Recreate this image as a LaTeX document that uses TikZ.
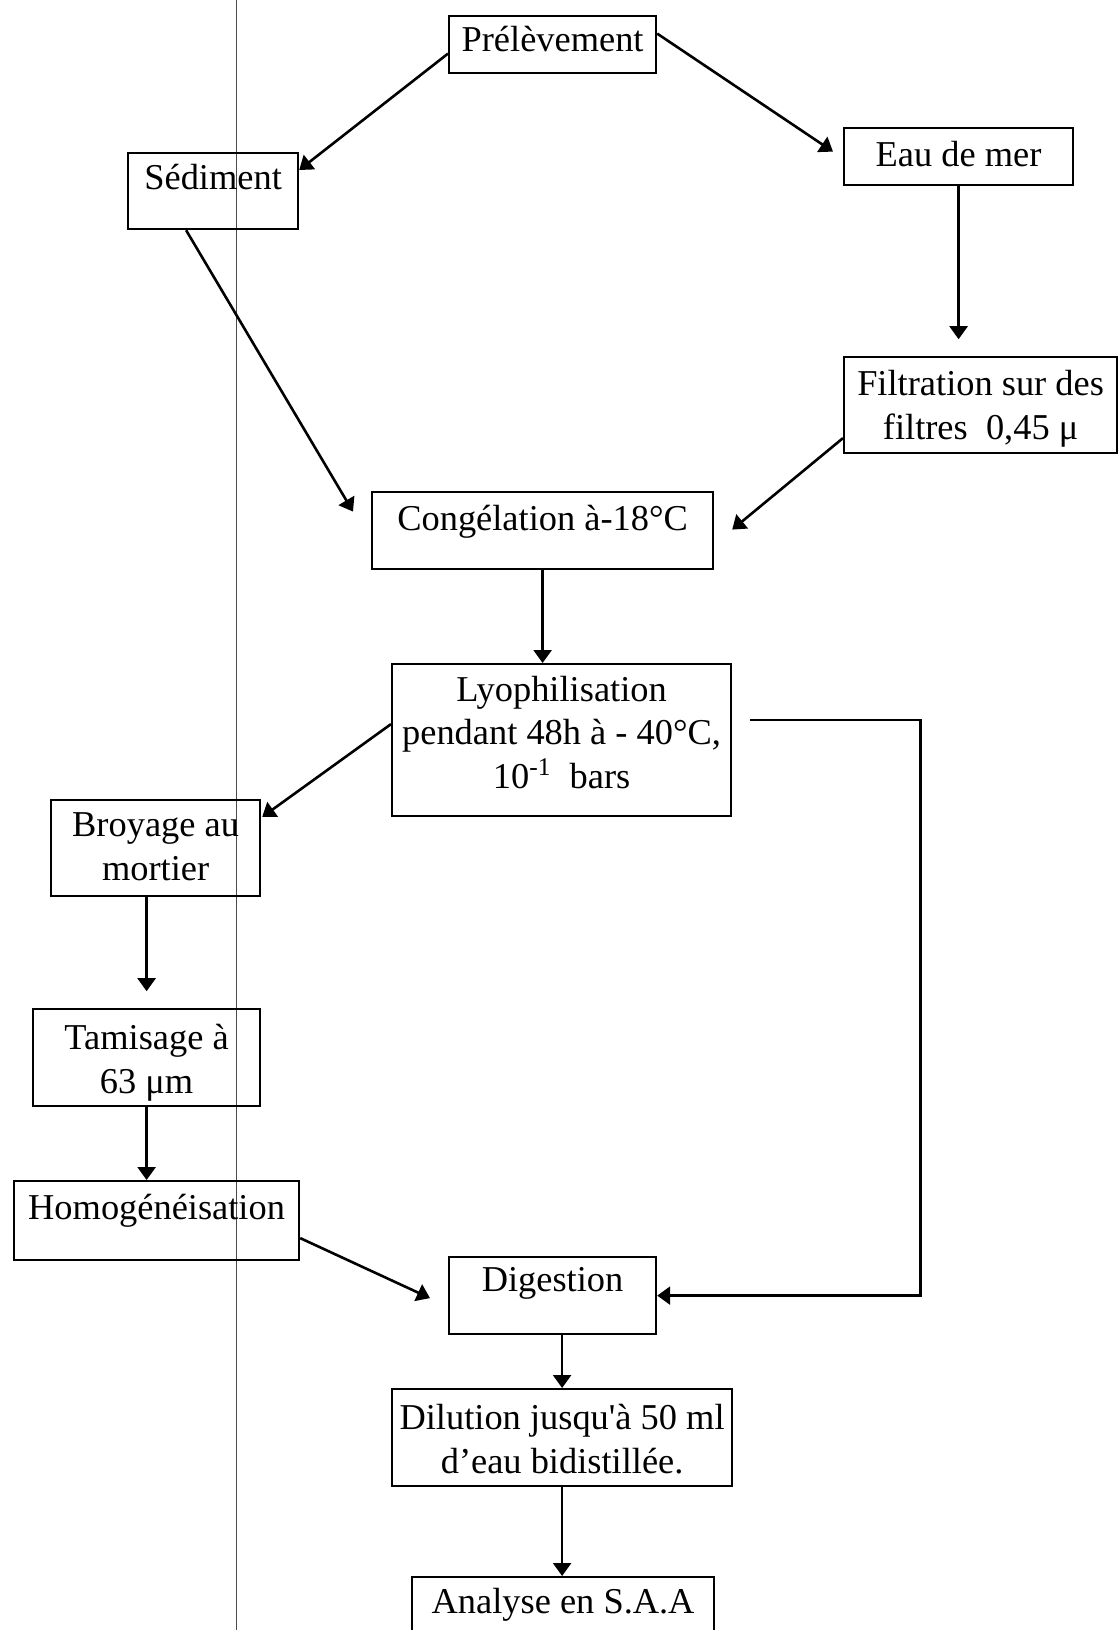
\documentclass[tikz,border=0pt]{standalone}
\usepackage{fontspec}
\setmainfont{Liberation Serif}
\usetikzlibrary{arrows.meta}
\begin{document}
\begin{tikzpicture}[x=0.5pt,y=-0.5pt,
	etape/.style={draw,line width=1.1pt,anchor=north west,inner sep=0pt,align=center,
		font=\fontsize{18.2}{21.6}\selectfont},
	fleche/.style={line width=1.3pt,-{Triangle[width=9pt,length=6.5pt]}}]
	\useasboundingbox (0,0) rectangle (1118,1630);
	% trait de marge
	\draw[line width=0.4pt,black!70] (236,0) -- (236,1630);
	% etapes
	\node[etape,minimum width=103.5pt,text height=17.5pt,text depth=11pt] (pre) at (448,15) {Prélèvement};
	\node[etape,minimum width=85pt,text height=18pt,text depth=20pt] (sed) at (127,152) {Sédiment};
	\node[etape,minimum width=114.5pt,text height=19pt,text depth=9.5pt] (eau) at (843,127) {Eau de mer};
	\node[etape,minimum width=136.5pt,text height=41pt,text depth=7pt] (fil) at (843,356) {Filtration sur des\\filtres\ \ 0,45 μ};
	\node[etape,minimum width=170.5pt,text height=19pt,text depth=19.5pt] (con) at (371,491) {Congélation à-18°C};
	\node[etape,minimum width=169.5pt,text height=62pt,text depth=14pt] (lyo) at (391,663) {Lyophilisation\\pendant 48h à - 40°C,\\10\textsuperscript{-1}\ \ bars};
	\node[etape,minimum width=104.5pt,text height=40pt,text depth=8pt] (bro) at (50,799) {Broyage au\\mortier};
	\node[etape,minimum width=113.5pt,text height=42pt,text depth=6.5pt] (tam) at (32,1008) {Tamisage à\\63 μm};
	\node[etape,minimum width=142.5pt,text height=19pt,text depth=20.5pt] (hom) at (13,1180) {Homogénéisation};
	\node[etape,minimum width=103.5pt,text height=17pt,text depth=21.5pt] (dig) at (448,1256) {Digestion};
	\node[etape,minimum width=170pt,text height=42pt,text depth=6.5pt] (dil) at (391,1388) {Dilution jusqu\textquotesingle à 50 ml\\d’eau bidistillée.};
	\node[etape,minimum width=151pt,text height=18pt,text depth=14pt] (ana) at (411,1576) {Analyse en S.A.A};
	% liaisons
	\draw[fleche] ([shift={(0,9)}]pre.west) -- ([shift={(0,18)}]sed.north east);
	\draw[fleche] ([shift={(0,-11)}]pre.east) -- ([shift={(-10,-5)}]eau.west);
	\draw[fleche] (eau.south) -- ++(0,153);
	\draw[fleche] ([shift={(0,33)}]fil.west) -- ([shift={(18,-1)}]con.east);
	\draw[fleche] ([shift={(-27,0)}]sed.south) -- ([shift={(-18,-19)}]con.west);
	\draw[fleche] (con.south) -- (con.south |- lyo.north);
	\draw[fleche] ([shift={(0,-16)}]lyo.west) -- ([shift={(1,18)}]bro.north east);
	\draw[fleche] (tam.north |- bro.south) -- ++(0,94);
	\draw[fleche] (tam.south) -- (tam.south |- hom.north);
	\draw[fleche] ([shift={(0,17.5)}]hom.east) -- ([shift={(-18,2.5)}]dig.west);
	\draw[fleche] ([shift={(18,-20)}]lyo.east) -- ++(170,0) |- (dig.east);
	\draw[fleche] (dil.north |- dig.south) -- (dil.north);
	\draw[fleche] (dil.south) -- (dil.south |- ana.north);
\end{tikzpicture}
\end{document}
